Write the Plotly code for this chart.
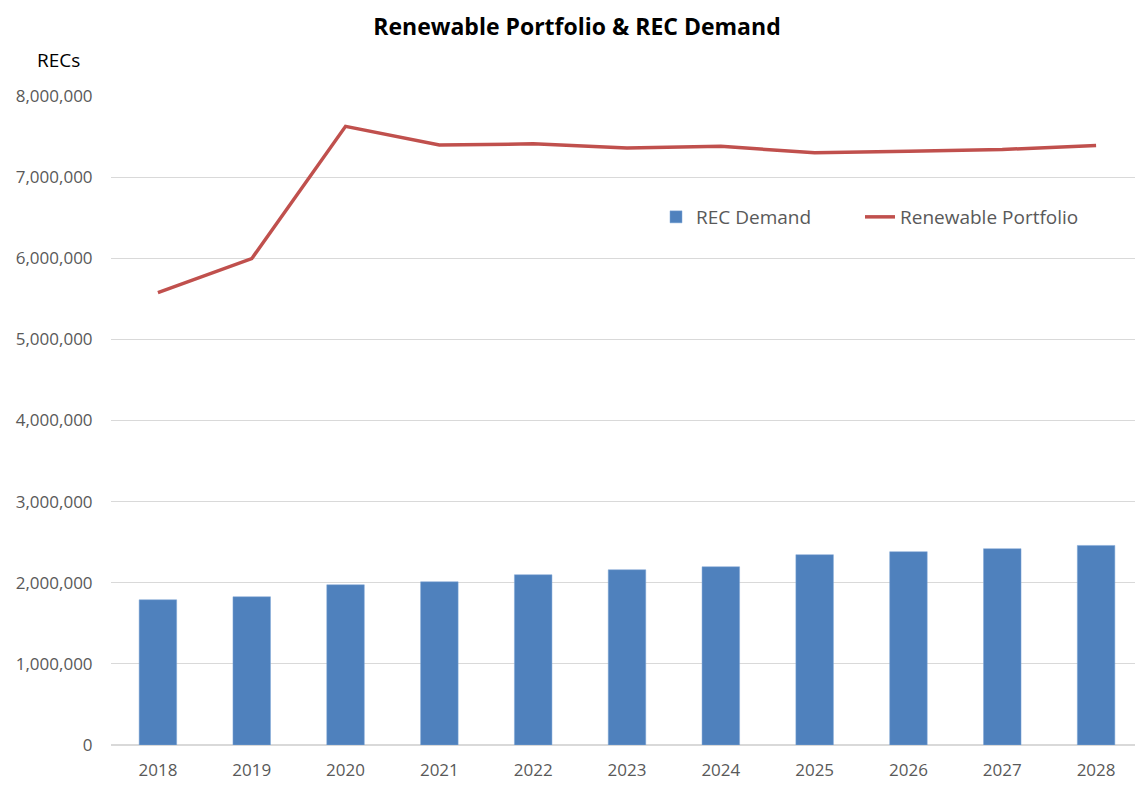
import plotly.graph_objects as go

years = ["2018", "2019", "2020", "2021", "2022", "2023", "2024", "2025", "2026", "2027", "2028"]
rec_demand = [1790000, 1827000, 1975000, 2012000, 2099000, 2160000, 2197000, 2346000, 2383000, 2420000, 2460000]
renewable_portfolio = [5576000, 5995000, 7626000, 7395000, 7410000, 7360000, 7380000, 7300000, 7320000, 7340000, 7390000]
y_ticks = [0, 1000000, 2000000, 3000000, 4000000, 5000000, 6000000, 7000000, 8000000]

W, H = 1143, 786
ML, MR, MT, MB = 103, 8, 88, 49
plot_w = W - ML - MR
plot_h = H - MT - MB
legend_y = (745 - 217) / (745 - 96)

fig = go.Figure()
fig.add_trace(go.Bar(
    x=years, y=rec_demand, name="REC Demand",
    marker=dict(color="#4F81BD", line=dict(color="#7FA6D6", width=0.5)),
    legend="legend",
))
fig.add_trace(go.Scatter(
    x=years, y=renewable_portfolio, name="Renewable Portfolio", mode="lines",
    line=dict(color="#C0504D", width=3.5),
    legend="legend2",
))

legend_common = dict(orientation="h", xanchor="left", y=legend_y, yanchor="middle",
                     font=dict(size=19, color="#595959"), bgcolor="rgba(0,0,0,0)",
                     itemwidth=30)

fig.update_layout(
    width=W, height=H,
    paper_bgcolor="white", plot_bgcolor="white",
    margin=dict(l=ML, r=MR, t=MT, b=MB),
    bargap=0.6,
    title=dict(text="<b>Renewable Portfolio &amp; REC Demand</b>", x=(577 - 8) / W, xanchor="center",
               y=1 - 19 / H, yanchor="middle",
               font=dict(family="Open Sans, Liberation Sans, sans-serif", size=23, color="black")),
    font=dict(family="Open Sans, Liberation Sans, sans-serif", size=17, color="#595959"),
    legend=dict(x=(648 - ML) / plot_w, **legend_common),
    legend2=dict(x=(852 - ML) / plot_w, **legend_common),
    showlegend=True,
    annotations=[dict(text="RECs", xref="paper", yref="paper", x=(58 - 8 - ML) / plot_w,
                      y=1.0 + (96 - 60) / plot_h,
                      xanchor="center", yanchor="middle", showarrow=False,
                      font=dict(size=19, color="black"))],
)
fig.update_xaxes(showgrid=False, showline=False, ticks="outside", ticklen=10, tickcolor="white",
                 tickfont=dict(size=17, color="#595959"))
fig.update_yaxes(range=[0, 8000000], tickvals=y_ticks, tickformat=",d", showgrid=True,
                 gridcolor="#D9D9D9", gridwidth=1, zeroline=True, zerolinecolor="#D9D9D9",
                 showline=False, ticks="outside", ticklen=14, tickcolor="white",
                 tickfont=dict(size=17, color="#595959"))

fig.write_html("out.html", config={"displayModeBar": False})
